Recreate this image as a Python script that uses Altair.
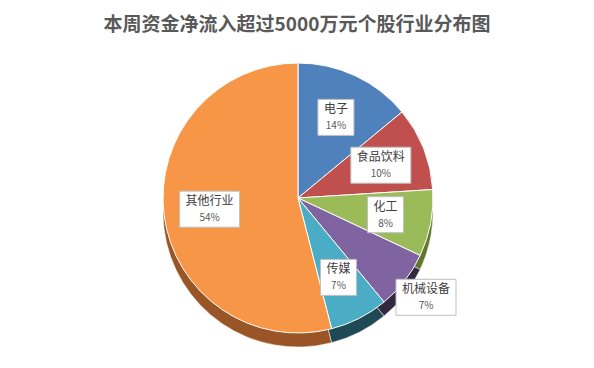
import json
import altair as alt
import pandas as pd

# ---- data ----
categories = ["电子", "食品饮料", "化工", "机械设备", "传媒", "其他行业"]
values = [14, 10, 8, 7, 7, 54]
top_colors = ["#4F81BD", "#C0504D", "#9BBB59", "#8064A2", "#4BACC6", "#F79646"]
side_colors = ["#2c4d75", "#772c2a", "#5f7530", "#33283f", "#1f4a55", "#9a5526"]
outside_labels = ["机械设备"]
title_text = "本周资金净流入超过5000万元个股行业分布图"

W, H = 578, 352
CX, CY, R, DEPTH = 290, 190, 135, 14
FONT = "Noto Sans CJK SC"

df = pd.DataFrame({"cat": categories, "val": values, "idx": list(range(len(categories)))})

xs = alt.Scale(domain=[0, W], nice=False, zero=False)
ys = alt.Scale(domain=[0, H], nice=False, zero=False, reverse=True)

base = alt.Chart(df)

side = base.mark_arc(outerRadius=R, stroke="#ffffff", strokeWidth=0.5).encode(
    theta=alt.Theta("val:Q", stack=True),
    order=alt.Order("idx:Q"),
    color=alt.Color("cat:N", scale=alt.Scale(domain=categories, range=side_colors), legend=None),
    x=alt.value(CX), y=alt.value(CY + DEPTH),
)

top = base.mark_arc(outerRadius=R, stroke="#ffffff", strokeWidth=1).encode(
    theta=alt.Theta("val:Q", stack=True),
    order=alt.Order("idx:Q"),
    color=alt.Color("cat:N", scale=alt.Scale(domain=categories, range=top_colors), legend=None),
    x=alt.value(CX), y=alt.value(CY),
)

outside_expr = f"indexof({json.dumps(outside_labels, ensure_ascii=False)}, datum.cat) >= 0"

lab = base.transform_window(
    cum="sum(val)", sort=[alt.SortField("idx")], frame=[None, 0]
).transform_joinaggregate(
    total="sum(val)"
).transform_calculate(
    mid="(datum.cum - datum.val / 2) / datum.total * 2 * PI",
    outside=outside_expr,
    pct="round(datum.val / datum.total * 100) + '%'",
).transform_calculate(
    rl=f"datum.outside ? {R} * 1.2 : {R} * 0.66",
).transform_calculate(
    lx=f"{CX} + datum.rl * sin(datum.mid)",
    ly=f"{CY} - datum.rl * cos(datum.mid)",
    ex=f"{CX} + {R} * sin(datum.mid)",
    ey=f"{CY} - {R} * cos(datum.mid)",
    bw="12 * length(datum.cat) + 12",
).transform_calculate(
    bx1="datum.lx - datum.bw / 2",
    bx2="datum.lx + datum.bw / 2",
    by1="datum.ly - 18",
    by2="datum.ly + 18",
)

leader = lab.transform_filter("datum.outside").mark_rule(color="#a6a6a6", strokeWidth=1).encode(
    x=alt.X("ex:Q", scale=xs, axis=None),
    y=alt.Y("ey:Q", scale=ys, axis=None),
    x2="lx:Q",
    y2="by1:Q",
)

box = lab.mark_rect(fill="#ffffff", stroke="#bfbfbf", strokeWidth=1).encode(
    x=alt.X("bx1:Q", scale=xs, axis=None),
    x2="bx2:Q",
    y=alt.Y("by1:Q", scale=ys, axis=None),
    y2="by2:Q",
)

name_txt = lab.mark_text(font=FONT, fontSize=12, color="#404040", dy=-8).encode(
    x=alt.X("lx:Q", scale=xs, axis=None),
    y=alt.Y("ly:Q", scale=ys, axis=None),
    text="cat:N",
)

pct_txt = lab.mark_text(font=FONT, fontSize=10, color="#595959", dy=9).encode(
    x=alt.X("lx:Q", scale=xs, axis=None),
    y=alt.Y("ly:Q", scale=ys, axis=None),
    text="pct:N",
)

title = alt.Chart(pd.DataFrame({"t": [title_text]})).mark_text(
    font=FONT, fontSize=19, fontWeight="bold", color="#595959"
).encode(x=alt.value(W / 2), y=alt.value(17), text="t:N")

chart = alt.layer(side, top, leader, box, name_txt, pct_txt, title).resolve_scale(
    color="independent"
).properties(
    width=W, height=H, autosize=alt.AutoSizeParams(type="none"), padding=0
).configure_view(stroke=None)

chart.save("out.html", embed_options={"renderer": "svg", "actions": False})
